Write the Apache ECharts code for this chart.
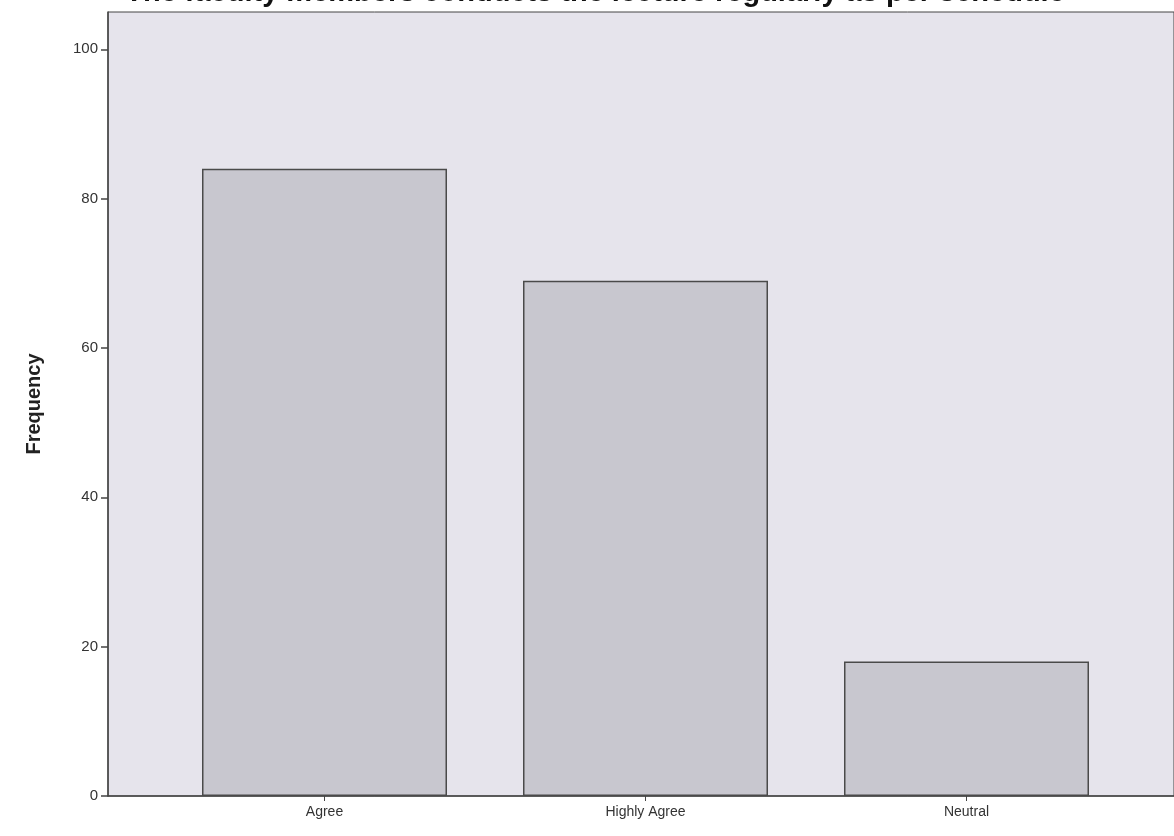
<!DOCTYPE html>
<html>
<head>
<meta charset="utf-8">
<script src="https://cdn.jsdelivr.net/npm/echarts@6/dist/echarts.min.js"></script>
<style>
html,body{margin:0;padding:0;background:#fff;}
#chart{width:1174px;height:836px;}
</style>
</head>
<body>
<div id="chart"></div>
<script>
const categories = ['Agree', 'Highly Agree', 'Neutral'];
const frequencies = [84, 69, 18];
const yTicks = [0, 20, 40, 60, 80, 100];
const titleText = 'The faculty members conducts the lecture regularly as per schedule';

const chart = echarts.init(document.getElementById('chart'));
const font = 'Liberation Sans, Arial, sans-serif';
chart.setOption({
  backgroundColor: '#ffffff',
  animation: false,
  title: {
    text: titleText,
    left: 590,
    textAlign: 'center',
    top: -27,
    textStyle: { fontFamily: font, fontSize: 29, fontWeight: 'bold', color: '#111' }
  },
  grid: [
    { left: 108, top: 12, right: -20, bottom: 40, show: true, backgroundColor: '#e6e4ec', borderColor: '#444', borderWidth: 1 },
    { left: 164, top: 12, right: 47, bottom: 40 }
  ],
  xAxis: [
    { type: 'value', gridIndex: 0, min: 0, max: 1, axisLine: { show: true, onZero: false, lineStyle: { color: '#444', width: 1.5 } },
      axisTick: { show: false }, axisLabel: { show: false }, splitLine: { show: false } },
    { type: 'category', gridIndex: 1, data: categories, boundaryGap: true,
      axisLine: { show: false },
      axisTick: { show: true, alignWithLabel: true, length: 5, lineStyle: { color: '#444' } },
      axisLabel: { fontFamily: font, fontSize: 14, color: '#333', margin: 9 } }
  ],
  yAxis: [
    { type: 'value', gridIndex: 0, min: 0, max: 105,
      name: 'Frequency', nameLocation: 'middle', nameGap: 64, nameRotate: 90,
      nameTextStyle: { fontFamily: font, fontSize: 20, fontWeight: 'bold', color: '#222' },
      axisLine: { show: true, lineStyle: { color: '#444', width: 1.5 } },
      axisTick: { show: true, length: 7, customValues: yTicks, lineStyle: { color: '#444', width: 1.5 } },
      axisLabel: { customValues: yTicks, fontFamily: font, fontSize: 15, color: '#333', margin: 10 },
      splitLine: { show: false } },
    { type: 'value', gridIndex: 1, min: 0, max: 105, show: false, splitLine: { show: false } }
  ],
  series: [{
    type: 'bar',
    xAxisIndex: 1, yAxisIndex: 1,
    data: frequencies,
    barWidth: 245,
    itemStyle: { color: '#c8c7cf', borderColor: '#4a4a4a', borderWidth: 1.5 }
  }]
});
</script>
</body>
</html>
